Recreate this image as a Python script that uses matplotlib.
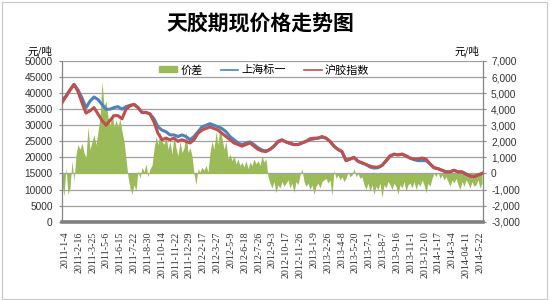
import numpy as np
import matplotlib
matplotlib.use('Agg')
import matplotlib.pyplot as plt
from matplotlib.ticker import FuncFormatter, MultipleLocator
from matplotlib.patches import Patch, Rectangle
from matplotlib.lines import Line2D

CJK = ['Noto Sans CJK SC', 'DejaVu Sans']

date_labels = ['2011-1-4', '2011-2-16', '2011-3-25', '2011-5-6', '2011-6-15', '2011-7-22',
               '2011-8-30', '2011-10-14', '2011-11-22', '2011-12-29', '2012-2-17', '2012-3-27',
               '2012-5-9', '2012-6-18', '2012-7-26', '2012-9-3', '2012-10-17', '2012-11-26',
               '2013-1-9', '2013-2-26', '2013-4-8', '2013-5-20', '2013-7-1', '2013-8-7',
               '2013-9-16', '2013-11-1', '2013-12-10', '2014-1-17', '2014-3-4', '2014-04-11',
               '2014-5-22']

# 沪胶指数 (futures index), yuan/ton
futures = [37000, 39000, 41000, 42700, 40500, 37000, 33800, 34500, 35500, 33500,
           31500, 30000, 31500, 33000, 33000, 32000, 35000, 36000, 36500, 35500,
           34000, 34000, 33500, 31000, 27500, 25500, 26000, 25500, 26000, 25000,
           25500, 25000, 24500, 25500, 27500, 28500, 29000, 29500, 29000, 28500,
           27500, 26500, 25500, 24500, 24000, 23500, 24000, 24500, 23500, 22500,
           22000, 21800, 22500, 23500, 25000, 25500, 24800, 24500, 24000, 24000,
           24500, 25000, 25800, 26000, 26000, 26500, 26000, 25000, 23500, 22500,
           21800, 19000, 19500, 20000, 18800, 18300, 17800, 17300, 17000, 17000,
           17500, 19000, 20500, 21000, 20800, 21000, 20500, 19800, 19500, 19500,
           19800, 19500, 18000, 16800, 16500, 16000, 15500, 15500, 16000, 15500,
           15500, 14800, 14200, 14000, 14500, 15000]

# 上海标一 (Shanghai spot), yuan/ton
spot = [38000, 39000, 41000, 42700, 41000, 38500, 35500, 37500, 38800, 38000,
        36500, 35000, 35000, 35500, 35800, 35000, 35800, 36200, 36500, 35500,
        34000, 34000, 33500, 32000, 29500, 28500, 28000, 27000, 27000, 26500,
        27000, 26500, 25500, 26500, 28000, 29500, 30000, 30500, 30000, 29500,
        29000, 28000, 26500, 25500, 24500, 24000, 24500, 24800, 24000, 23000,
        22300, 22000, 22500, 23500, 24800, 25300, 24800, 24300, 24000, 24000,
        24500, 25000, 25500, 25800, 26000, 26300, 26000, 25000, 23500, 22500,
        21800, 19000, 19500, 20000, 18800, 18300, 17800, 17000, 16700, 16800,
        17500, 18800, 20300, 21000, 20800, 21000, 20500, 19800, 19300, 19000,
        19000, 19000, 18000, 16800, 16500, 16000, 15500, 15500, 16000, 15500,
        15500, 14800, 14200, 14000, 14500, 15000]

# 价差 (basis), yuan/ton, right axis
basis = [-700, -1400, 400, -1300, -900, 800, -500, 1200, 1800, 1500,
         1900, 1300, 1000, 2900, 1500, 2000, 2400, 1800, 2600, 3500,
         5700, 4200, 4500, 3500, 3000, 3800, 2900, 3300, 2900, 3400,
         2600, 2000, 900, -200, -900, -1300, -700, -1100, 200, -300,
         400, 100, 600, -200, 300, 500, 1500, 2300, 1800, 2600,
         2000, 1800, 2400, 1500, 2000, 1200, 2400, 1600, 1100, 2000,
         1300, 1600, 2600, 1300, 1600, 1100, 0, -700, 300, 100,
         400, 200, 500, 100, 1300, 2000, 1500, 2600, 1800, 3000,
         2200, 1500, 2000, 900, 1200, 800, 1100, 600, 900, 500,
         700, 400, 800, 300, 700, 500, 900, 600, 800, 500,
         1100, 700, 900, -200, -600, -900, -500, -1200, -700, -900,
         -500, -800, -600, -400, -900, -600, -1200, -500, -700, -100,
         300, -500, -800, -600, -1000, -700, -1300, -800, -600, -900,
         -500, -400, -300, -600, -400, -1400, 200, -300, -100, -400,
         -200, -500, -300, 100, -200, -100, 300, -200, 0, -300,
         -200, -700, -1000, -600, -1100, -700, -1300, -800, -1000, -600,
         -1500, -700, -900, -500, -700, -1000, -600, -800, -1300, -700,
         -900, -500, -1100, -700, -600, -900, -500, -1000, -600, -800,
         -400, -700, -1200, -600, -800, -300, 0, -200, 100, -300,
         -100, -400, -200, -500, -800, -400, -600, -300, -700, -1000,
         -500, -800, -400, -600, -900, -500, -800, -700, -400, -900,
         -600]

GREEN = '#9BBB59'
BLUE = '#4F81BD'
RED = '#C0504D'
GRID = '#A0A0A0'
AXC = '#868686'

basis_x = np.arange(len(basis))
line_x = np.arange(len(futures)) * 2
tick_pos = np.linspace(1.5, 209, len(date_labels))

fig = plt.figure(figsize=(5.5, 3.0), dpi=100)
Lp, Rp, Tp, Bp = 62.0, 483.0, 61.0, 221.7
ax = fig.add_axes([Lp / 550, 1 - Bp / 300, (Rp - Lp) / 550, (Bp - Tp) / 300])
axg = ax.twinx()
ax.set_zorder(axg.get_zorder() + 1)
ax.patch.set_visible(False)

# green area (right axis), with gridlines beneath
axg.set_axisbelow(True)
axg.yaxis.grid(True, color=GRID, lw=0.9)
axg.fill_between(basis_x, basis, 0, color=GREEN, lw=0, zorder=2)
axg.set_ylim(-3000, 7000)
axg.yaxis.set_major_locator(MultipleLocator(1000))
axg.yaxis.set_major_formatter(FuncFormatter(lambda v, p: f"{v:,.0f}"))

ax.plot(line_x, spot, color=BLUE, lw=2.2, zorder=3)
ax.plot(line_x, futures, color=RED, lw=2.2, zorder=4)
ax.set_ylim(0, 50000)
ax.yaxis.set_major_locator(MultipleLocator(5000))
ax.yaxis.set_major_formatter(FuncFormatter(lambda v, p: f"{v:.0f}"))
ax.set_xlim(0, 210.5)
ax.set_xticks(tick_pos)
ax.set_xticklabels(date_labels, rotation=90, fontsize=7.2, family='Liberation Serif', color='#333333')

for s in ['top', 'right']:
    ax.spines[s].set_visible(False)
ax.spines['left'].set_color(AXC)
ax.spines['left'].set_linewidth(0.9)
ax.spines['bottom'].set_color('#808080')
ax.spines['bottom'].set_linewidth(2.6)
for s in ['top', 'left', 'bottom']:
    axg.spines[s].set_visible(False)
axg.spines['right'].set_color(AXC)
axg.spines['right'].set_linewidth(0.9)

ax.tick_params(axis='x', length=0, pad=7)
ax.tick_params(axis='y', direction='out', length=2.2, width=0.8, color=AXC, pad=4.5,
               labelsize=7.3, labelcolor='#333333')
axg.tick_params(axis='y', direction='out', length=2.2, width=0.8, color=AXC, pad=3.6,
                labelsize=7.3, labelcolor='#333333')
for lab in ax.get_yticklabels() + axg.get_yticklabels():
    lab.set_family('Liberation Sans')

handles = [Patch(color=GREEN), Line2D([], [], color=BLUE, lw=1.2), Line2D([], [], color=RED, lw=1.2)]
ax.legend(handles, ['价差', '上海标一', '沪胶指数'], ncol=3, loc='center',
          bbox_to_anchor=(0.481, 0.944), frameon=False, prop={'family': CJK, 'size': 8},
          handlelength=1.6, handleheight=0.45, handletextpad=0.3, columnspacing=1.6)

fig.text(260 / 550, 1 - 23 / 300, '天胶期现价格走势图', ha='center', va='center',
         fontsize=15, fontweight='bold', family=CJK)
fig.text(39.5 / 550, 1 - 51 / 300, '元/吨', ha='center', va='center', fontsize=7.5, family=CJK)
fig.text(466.5 / 550, 1 - 51 / 300, '元/吨', ha='center', va='center', fontsize=7.5, family=CJK)

fig.patches.append(Rectangle((0.003, 0.005), 0.992, 0.99, transform=fig.transFigure,
                             fill=False, ec='#C8C8C8', lw=0.8))

fig.savefig('out.png', dpi=100)
